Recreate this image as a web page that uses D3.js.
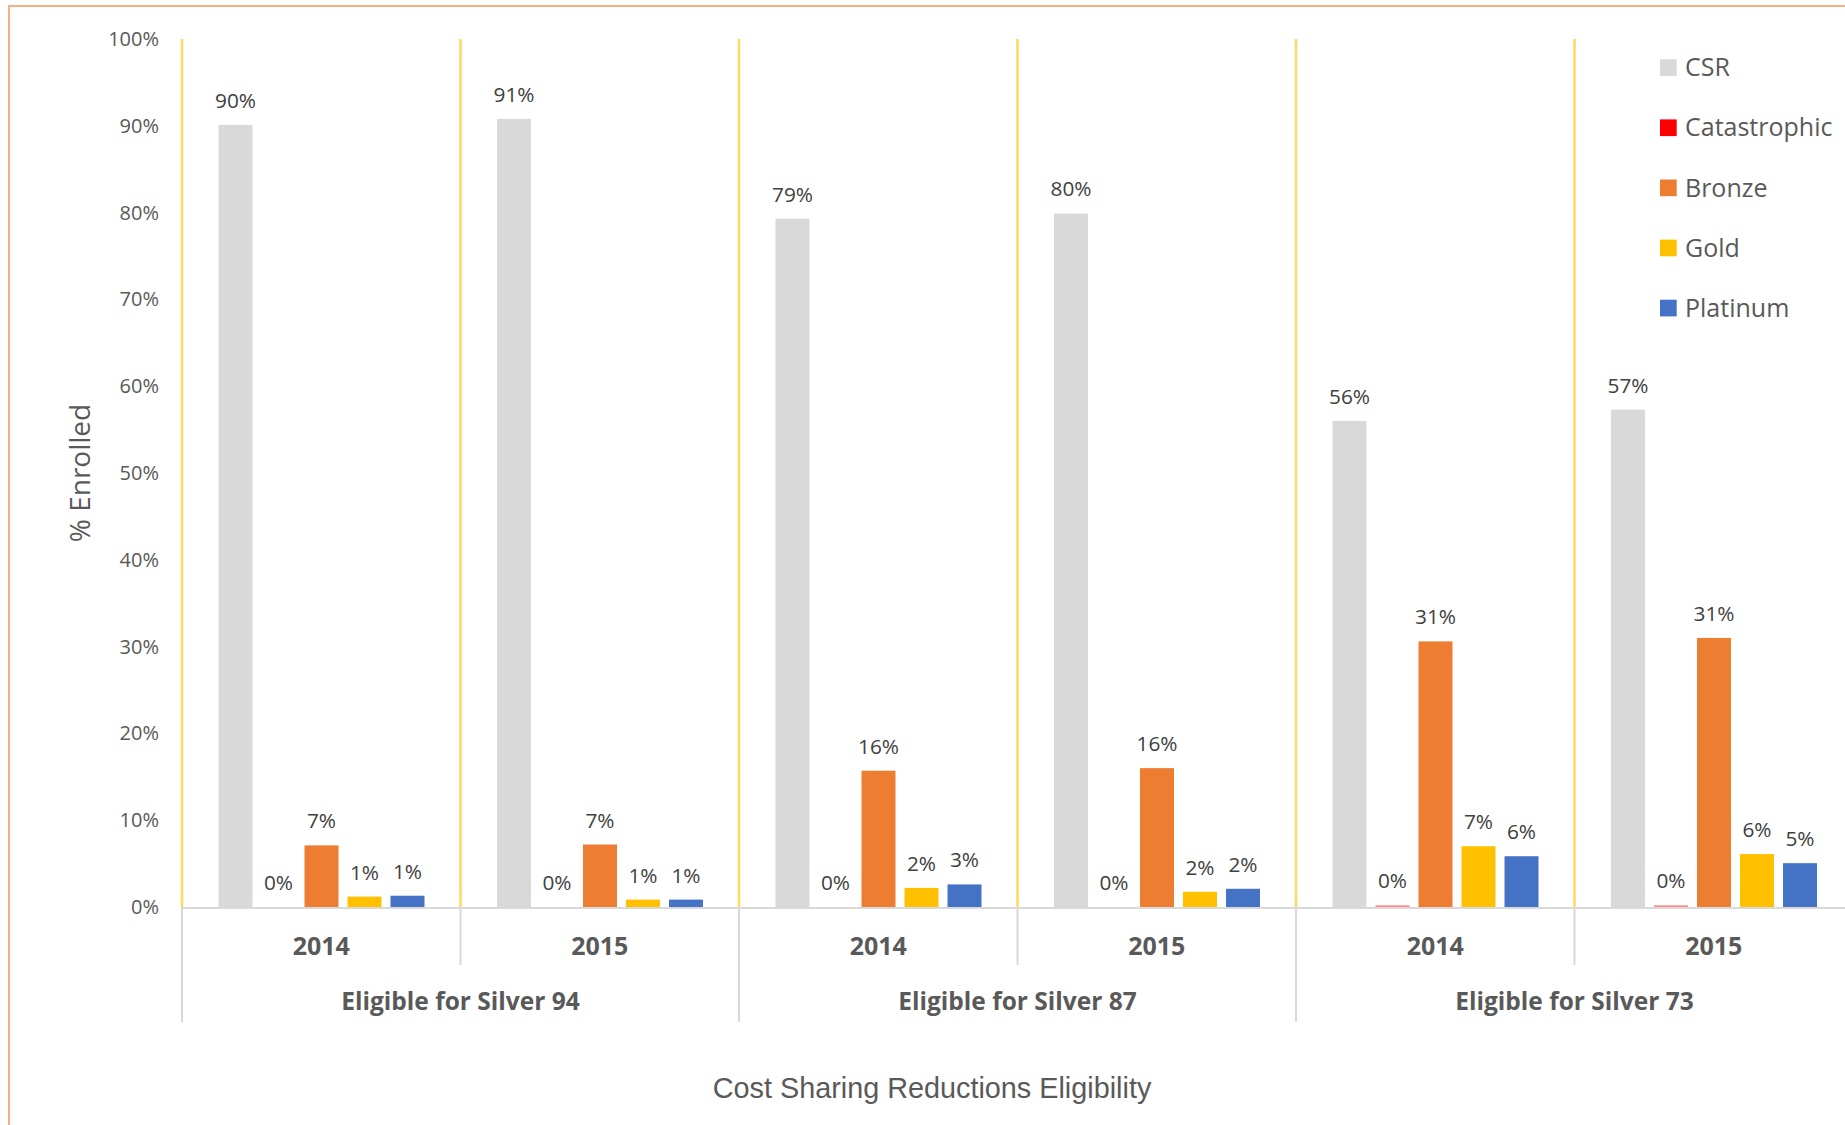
<!DOCTYPE html>
<html>
<head>
<meta charset="utf-8">
<script src="https://cdn.jsdelivr.net/npm/d3@7"></script>
<style>
  html, body { margin: 0; padding: 0; background: #ffffff; }
  svg { display: block; }
</style>
</head>
<body>
<svg id="chart" width="1845" height="1125"></svg>
<script>
// ---- Data ----
const groups = ["Eligible for Silver 94", "Eligible for Silver 87", "Eligible for Silver 73"];
const years = ["2014", "2015"];
const series = ["CSR", "Catastrophic", "Bronze", "Gold", "Platinum"];
const seriesColors = ["#D9D9D9", "#FF0000", "#ED7D31", "#FFC000", "#4472C4"];
// one value per (group, year) in order: S94-2014, S94-2015, S87-2014, S87-2015, S73-2014, S73-2015 (percent)
const csr          = [90.1, 90.8, 79.3, 79.9, 56.0, 57.3];
const catastrophic = [0, 0, 0, 0, 0.2, 0.2];
const bronze       = [7.1, 7.2, 15.7, 16.0, 30.6, 31.0];
const gold         = [1.2, 0.85, 2.2, 1.75, 7.0, 6.1];
const platinum     = [1.3, 0.85, 2.6, 2.1, 5.85, 5.05];
const yTicks = [0, 10, 20, 30, 40, 50, 60, 70, 80, 90, 100];
const yTitle = "% Enrolled";
const xTitle = "Cost Sharing Reductions Eligibility";

const seriesValues = [csr, catastrophic, bronze, gold, platinum];
const cats = [];
groups.forEach(g => years.forEach(y => cats.push(g + "|" + y)));

// ---- Layout ----
const svg = d3.select("#chart");
const plotLeft = 182, catW = 278.5;
const plotRight = plotLeft + catW * cats.length;
const plotTop = 39, plotBottom = 907;

const x0 = d3.scaleBand().domain(cats).range([plotLeft, plotRight]).padding(0);
const x1 = d3.scaleBand().domain(series).range([36.5, 242.5]).paddingInner(0.21).paddingOuter(0);
const y = d3.scaleLinear().domain([0, 100]).range([plotBottom, plotTop]);

// outer border
svg.append("rect")
  .attr("x", 9).attr("y", 6).attr("width", 2000).attr("height", 2000)
  .attr("fill", "none").attr("stroke", "#F4B183").attr("stroke-width", 2);

// vertical yellow gridlines at category boundaries
const bounds = d3.range(cats.length).map(i => x0(cats[i]));
svg.append("g").selectAll("line").data(bounds).join("line")
  .attr("x1", d => d).attr("x2", d => d)
  .attr("y1", y(100)).attr("y2", y(0))
  .attr("stroke", "#FFD966").attr("stroke-width", 2.6);

// bars
const gCats = svg.append("g").selectAll("g").data(cats).join("g")
  .attr("transform", d => `translate(${x0(d)},0)`);

gCats.each(function(c, ci) {
  const g = d3.select(this);
  series.forEach((s, si) => {
    const v = seriesValues[si][ci];
    g.append("rect")
      .attr("x", x1(s)).attr("width", x1.bandwidth())
      .attr("y", y(v)).attr("height", y(0) - y(v))
      .attr("fill", seriesColors[si])
      .attr("fill-opacity", s === "Catastrophic" ? 0.45 : 1);
    g.append("text")
      .attr("x", x1(s) + x1.bandwidth() / 2)
      .attr("y", y(v) - 17)
      .attr("text-anchor", "middle")
      .attr("font-family", "'Open Sans', sans-serif")
      .attr("font-size", 20.8)
      .attr("fill", "#404040")
      .text(d3.format(".0%")(v / 100));
  });
});

// horizontal axis line
svg.append("line")
  .attr("x1", plotLeft).attr("x2", plotRight)
  .attr("y1", plotBottom + 1).attr("y2", plotBottom + 1)
  .attr("stroke", "#D9D9D9").attr("stroke-width", 2);

// separators below axis
const sepData = d3.range(cats.length + 1).map(i => ({ x: plotLeft + i * catW, major: i % 2 === 0 }));
svg.append("g").selectAll("line").data(sepData).join("line")
  .attr("x1", d => d.x).attr("x2", d => d.x)
  .attr("y1", plotBottom).attr("y2", d => d.major ? 1022 : 965)
  .attr("stroke", "#D9D9D9").attr("stroke-width", 2);

// year labels
svg.append("g").selectAll("text").data(cats).join("text")
  .attr("x", d => x0(d) + x0.bandwidth() / 2)
  .attr("y", 955)
  .attr("text-anchor", "middle")
  .attr("font-family", "'Open Sans', sans-serif")
  .attr("font-weight", "bold")
  .attr("font-size", 25)
  .attr("fill", "#595959")
  .text(d => d.split("|")[1]);

// group labels
svg.append("g").selectAll("text").data(groups).join("text")
  .attr("x", (d, i) => plotLeft + (i * 2 + 1) * catW)
  .attr("y", 1010)
  .attr("text-anchor", "middle")
  .attr("font-family", "'Open Sans', sans-serif")
  .attr("font-weight", "bold")
  .attr("font-size", 24.5)
  .attr("fill", "#595959")
  .text(d => d);

// y axis tick labels
const yAxis = d3.axisLeft(y).tickValues(yTicks).tickSize(0).tickPadding(0)
  .tickFormat(d => d + "%");
const gy = svg.append("g").attr("transform", `translate(159,0)`).call(yAxis);
gy.select(".domain").remove();
gy.selectAll("text")
  .attr("font-family", "'Open Sans', sans-serif")
  .attr("font-size", 20)
  .attr("fill", "#595959");

// y title
svg.append("text")
  .attr("transform", `translate(90,${(plotTop + plotBottom) / 2}) rotate(-90)`)
  .attr("text-anchor", "middle")
  .attr("font-family", "'Open Sans', sans-serif")
  .attr("font-size", 28)
  .attr("fill", "#595959")
  .text(yTitle);

// x title
svg.append("text")
  .attr("x", 932).attr("y", 1098)
  .attr("text-anchor", "middle")
  .attr("font-family", "'Liberation Sans', Arial, sans-serif")
  .attr("font-size", 28.8)
  .attr("fill", "#595959")
  .text(xTitle);

// legend
const legend = svg.append("g").selectAll("g").data(series).join("g")
  .attr("transform", (d, i) => `translate(1660,${67.6 + i * 60.1})`);
legend.append("rect")
  .attr("x", 0).attr("y", -8.3).attr("width", 16.7).attr("height", 16.7)
  .attr("fill", (d, i) => seriesColors[i]);
legend.append("text")
  .attr("x", 25).attr("y", 0).attr("dy", "0.35em")
  .attr("font-family", "'Open Sans', sans-serif")
  .attr("font-size", 25)
  .attr("fill", "#595959")
  .text(d => d);
</script>
</body>
</html>
